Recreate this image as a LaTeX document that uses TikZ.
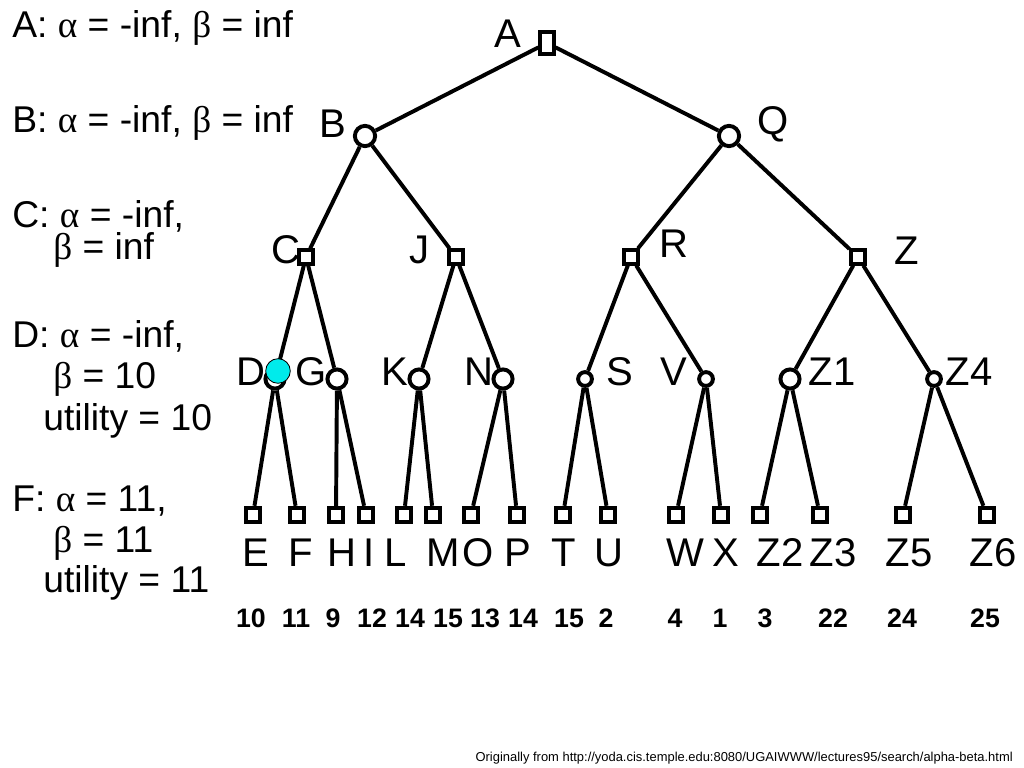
\documentclass[tikz,border=0pt]{standalone}
\usepackage{fontspec}
\setmainfont{Liberation Sans}
\newfontfamily\greek{Liberation Serif}
\usepackage{tikz}
\definecolor{current}{RGB}{0,235,235}
\tikzset{
  edge/.style={line width=2.8pt},
  maxbox/.style={draw, fill=white, rectangle, line width=2.8pt, inner sep=0pt, minimum size=9.4pt},
  leafbox/.style={draw, fill=white, rectangle, line width=2.8pt, inner sep=0pt, minimum size=10.3pt},
  minring/.style={draw, fill=white, circle, line width=2.8pt, inner sep=0pt, minimum size=13.6pt},
  smallring/.style={draw, fill=white, circle, line width=2.8pt, inner sep=0pt, minimum size=9.8pt},
  lbl/.style={inner sep=0pt, font=\fontsize{28.5}{34}\selectfont},
  util/.style={inner sep=0pt, font=\fontsize{19}{23}\selectfont\bfseries},
  note/.style={inner sep=0pt, anchor=base west, font=\fontsize{26.5}{31}\selectfont},
}
\newcommand{\al}{{\greek α}}
\newcommand{\be}{{\greek β}}

\begin{document}
\begin{tikzpicture}[x=0.025cm, y=-0.025cm]
\useasboundingbox (0,0) rectangle (1024,768);
% inner nodes
\node[maxbox, minimum height=15pt] (A) at (547,43) {};
\node[minring, minimum size=14.4pt] (B) at (365,136) {};
\node[minring, minimum size=14.4pt] (Q) at (729,136) {};
\foreach \n/\x in {C/306, J/456, R/631, Z/858}
  \node[maxbox] (\n) at (\x,257) {};
\foreach \n/\x in {D/275, G/337, K/419, N/503, Z1/790}
  \node[minring] (\n) at (\x,379) {};
\foreach \n/\x in {S/585, V/706, Z4/934}
  \node[smallring] (\n) at (\x,379) {};
% leaves
\foreach \n/\x in {E/253, F/297, H/336, I/366, L/404, M/433, O/471, P/517,
                   T/563, U/608, W/676, X/721, Z2/760, Z3/820, Z5/903, Z6/987}
  \node[leafbox] (\n) at (\x,515) {};
\foreach \u/\v in {A/B, A/Q, B/C, B/J, Q/R, Q/Z, C/D, C/G, J/K, J/N, R/S, R/V, Z/Z1, Z/Z4,
                   D/E, D/F, G/H, G/I, K/L, K/M, N/O, N/P, S/T, S/U, V/W, V/X,
                   Z1/Z2, Z1/Z3, Z4/Z5, Z4/Z6}
  \draw[edge] (\u) -- (\v);
% node names
\node[lbl] (lA) at (508,34) {A};
\node[lbl] (lB) at (333,124) {B};
\node[lbl] (lQ) at (773,124) {Q};
\node[lbl] (lC) at (286,250) {C};
\node[lbl] (lJ) at (420,250) {J};
\node[lbl] (lR) at (674,244) {R};
\node[lbl] (lZ) at (907,251) {Z};
\foreach \n/\x in {D/251, G/311, K/395, N/479, S/620, V/674, Z1/832, Z4/969}
  \node[lbl] (l\n) at (\x,372) {\n};
\foreach \n/\x in {E/256, F/301, H/342, I/369, L/396, M/443, O/478, P/518,
                   T/564, U/609, W/685, X/726, Z2/780, Z3/833, Z5/909, Z6/993}
  \node[lbl] (l\n) at (\x,553) {\n};
% utilities
\foreach \n/\x/\v in {E/251/10, F/296/11, H/333/9, I/372/12, L/410/14, M/448/15, O/485/13, P/523/14,
                      T/569/15, U/606/2, W/675/4, X/720/1, Z2/765/3, Z3/833/22, Z5/902/24, Z6/985/25}
  \node[util] (u\n) at (\x,618) {\v};
% current node
\node[circle, draw, fill=current, line width=0.6pt, inner sep=0pt, minimum size=17.5pt] (cur) at (278,371) {};
% trace
\node[note] (tA) at (12,38) {A: \al{} = -inf, \be{} = inf};
\node[note] (tB) at (12,133) {B: \al{} = -inf, \be{} = inf};
\node[note] (tC) at (12,227) {C: \al{} = -inf,};
\node[note] (tC2) at (53,259) {\be{} = inf};
\node[note] (tD) at (12,347) {D: \al{} = -inf,};
\node[note] (tD2) at (53,388) {\be{} = 10};
\node[note] (tD3) at (43,430) {utility = 10};
\node[note] (tF) at (12,511) {F: \al{} = 11,};
\node[note] (tF2) at (53,552) {\be{} = 11};
\node[note] (tF3) at (43,592) {utility = 11};
\node[inner sep=0pt, anchor=base east, font=\fontsize{9.2}{11}\selectfont] (src) at (1013,761)
  {Originally from http://yoda.cis.temple.edu:8080/UGAIWWW/lectures95/search/alpha-beta.html};
\end{tikzpicture}
\end{document}
